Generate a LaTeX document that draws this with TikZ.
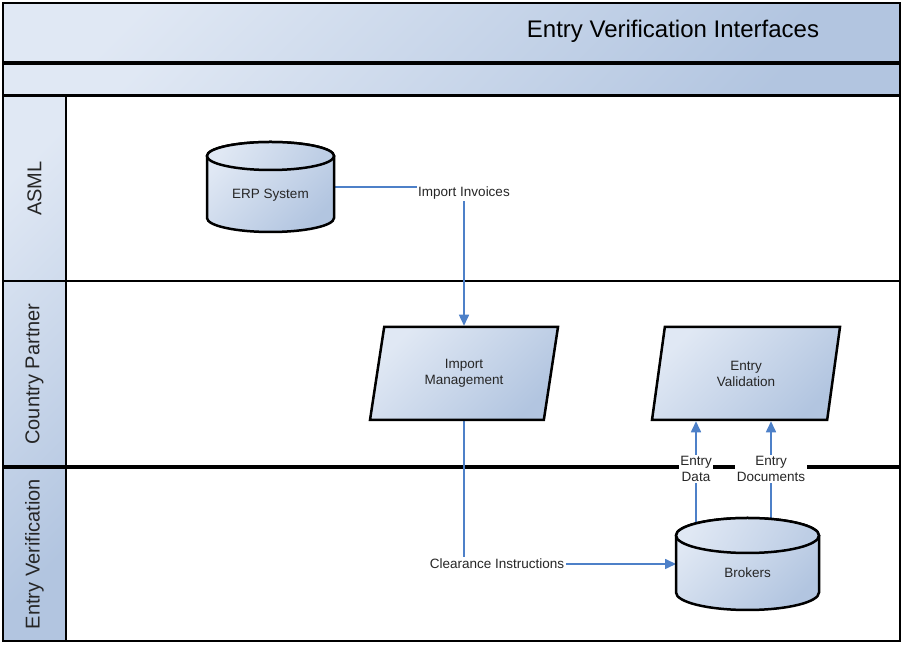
\documentclass[tikz,border=0pt]{standalone}
\usepackage{fontspec}
\setmainfont{Liberation Sans}
\usetikzlibrary{shapes.geometric,arrows.meta,calc}
\definecolor{paleblue}{HTML}{E0E8F4}
\definecolor{deepblue}{HTML}{B2C5E0}
\definecolor{flowblue}{HTML}{4D80C8}
\pgfdeclarelayer{bg}
\pgfdeclarelayer{wires}
\pgfsetlayers{bg,wires,main}

% a drum (database) outline around a named rectangular node
\newcommand\drawdrum[3]{%
  \path[drumbody] ($(#1.north west)+(0,-#3)$) -- ($(#1.south west)+(0,#3)$)
    arc[start angle=180,end angle=360,x radius=#2,y radius=#3]
    -- ($(#1.north east)+(0,-#3)$)
    arc[start angle=0,end angle=180,x radius=#2,y radius=#3] -- cycle;
  \path[drumlid] ($(#1.north)+(0,-#3)$) ellipse[x radius=#2,y radius=#3];
}

\begin{document}
\begin{tikzpicture}[x=1pt,y=1pt,
  grad/.style={top color=paleblue, bottom color=deepblue, shading angle=45},
  frame/.style={draw=black, line width=2.4pt},
  lanetitle/.style={font=\fontsize{20}{24}\selectfont, rotate=90, text=black!85},
  txt/.style={font=\fontsize{13.5}{16}\selectfont, text=black!85, align=center, inner sep=1.5pt},
  tag/.style={txt, fill=white},
  para/.style={txt, trapezium, trapezium left angle=63.2, trapezium right angle=116.8,
    trapezium stretches body, draw=black, line width=2.5pt, grad,
    minimum width=188pt, minimum height=93pt, inner sep=0pt},
  drumbox/.style={rectangle, draw=none, inner sep=0pt, outer sep=0pt},
  drumbody/.style={draw=black, line width=2.5pt, grad},
  drumlid/.style={draw=black, line width=2.5pt, top color=paleblue, bottom color=deepblue!75!paleblue, shading angle=60},
  flow/.style={draw=flowblue, line width=1.6pt},
  flowarrow/.style={flow, -{Triangle[length=11pt,width=10pt]}}
]
\useasboundingbox (0,0) rectangle (903,645);

% pool frame, header bars and swimlanes
\begin{pgfonlayer}{bg}
  \path[grad, frame] (3,583) rectangle (900,642);
  \path[grad, frame] (3,550) rectangle (900,581);
  \path[fill=white] (3,4) rectangle (900,549);
  \path[grad] (3,4) rectangle (66,549);
  \draw[frame] (66,4) -- (66,549);
  \draw[frame] (3,364) -- (900,364);
  \draw[draw=black, line width=3.2pt] (3,178) -- (900,178);
  \draw[frame] (3,4) rectangle (900,549);
\end{pgfonlayer}

\node[font=\fontsize{24}{28}\selectfont] (title) at (673,614) {Entry Verification Interfaces};

\node[lanetitle] (laneA) at (34.5,456.5) {ASML};
\node[lanetitle] (laneB) at (34.5,271) {Country Partner};
\node[lanetitle] (laneC) at (34.5,91) {Entry Verification};

% stores
\node[drumbox, minimum width=127pt, minimum height=90pt] (erp) at (270.5,458) {};
\drawdrum{erp}{63.5}{14}
\node[txt] (erptext) at (270.5,450) {ERP System};

\node[drumbox, minimum width=143pt, minimum height=92pt] (br) at (747.5,81) {};
\drawdrum{br}{71.5}{17.5}
\node[txt] (brtext) at (747.5,72) {Brokers};

% processes
\node[para] (im) at (464,271.5) {Import\\Management};
\node[para] (ev) at (746,271.5) {Entry\\Validation};

% flow labels
\node[tag] (ii) at (464,452) {Import Invoices};
\node[tag] (ci) at (497,81) {Clearance Instructions};
\node[tag] (ed) at (696,176) {Entry\\Data};
\node[tag] (edoc) at (771,176) {Entry\\Documents};

% flows
\begin{pgfonlayer}{wires}
  \draw[flow] (erp.east) -- (erp.east -| ii.west);
  \draw[flowarrow] (ii.south) -- (im.north);
  \draw[flow] (im.south) -- (im.south |- ci.north);
  \draw[flowarrow] (ci.east) -- (br.west);
  \draw[flowarrow] (br.center -| ed.south) -- (ev.south -| ed.south);
  \draw[flowarrow] (br.center -| edoc.south) -- (ev.south -| edoc.south);
\end{pgfonlayer}
\end{tikzpicture}
\end{document}
